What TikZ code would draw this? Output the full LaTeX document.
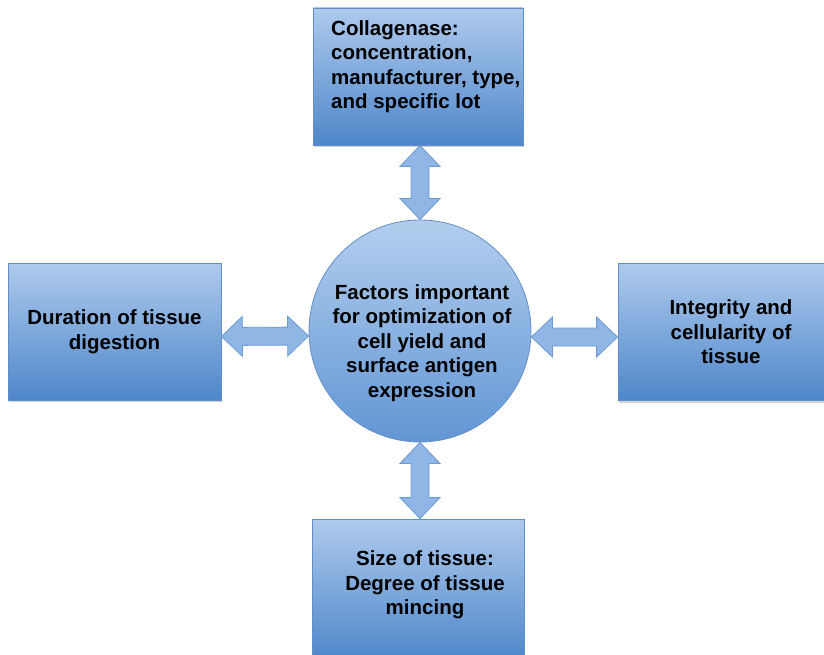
\documentclass[tikz,border=0pt]{standalone}
\usepackage{fontspec}
\setmainfont{Liberation Sans}
\usetikzlibrary{calc,shadows}

\definecolor{boxtop}{RGB}{174,202,237}
\definecolor{boxbot}{RGB}{78,135,202}
\definecolor{boxline}{RGB}{98,142,200}
\definecolor{circtop}{RGB}{178,206,238}
\definecolor{circbot}{RGB}{98,150,212}
\definecolor{arrowfill}{RGB}{143,182,228}
\definecolor{arrowline}{RGB}{110,154,210}

\tikzset{
  factorbox/.style={rectangle, draw=boxline, line width=0.8pt,
    top color=boxtop, bottom color=boxbot, inner sep=0pt,
    drop shadow={opacity=0.35, shadow xshift=1pt, shadow yshift=-2pt},
    align=center},
  hubcircle/.style={circle, draw=boxline, line width=0.8pt,
    top color=circtop, bottom color=circbot, inner sep=0pt,
    minimum size=222pt},
  caption/.style={inner sep=0pt, align=center, text=black},
  blockarrowstyle/.style={draw=arrowline, fill=arrowfill, line width=0.8pt,
    line join=miter},
}

% dimensions of the double-headed block arrows
\newcommand\arrowheadlen{21pt}
\newcommand\arrowheadhalf{20pt}
\newcommand\arrowshafthalf{9pt}

% double-headed block arrow between two points
\newcommand\blockarrow[2]{%
  \coordinate (ba-a) at #1;
  \coordinate (ba-b) at #2;
  \coordinate (ba-p) at ($(ba-a)!\arrowheadlen!(ba-b)$);
  \coordinate (ba-q) at ($(ba-b)!\arrowheadlen!(ba-a)$);
  \draw[blockarrowstyle] (ba-a)
    -- ($(ba-p)!\arrowheadhalf!90:(ba-b)$) -- ($(ba-p)!\arrowshafthalf!90:(ba-b)$)
    -- ($(ba-q)!\arrowshafthalf!-90:(ba-a)$) -- ($(ba-q)!\arrowheadhalf!-90:(ba-a)$)
    -- (ba-b)
    -- ($(ba-q)!\arrowheadhalf!90:(ba-a)$) -- ($(ba-q)!\arrowshafthalf!90:(ba-a)$)
    -- ($(ba-p)!\arrowshafthalf!-90:(ba-b)$) -- ($(ba-p)!\arrowheadhalf!-90:(ba-b)$)
    -- cycle;
}

\begin{document}
\begin{tikzpicture}[x=1pt, y=-1pt,
  font=\fontsize{20.5}{24.5}\selectfont\bfseries]
  \clip (0,0) rectangle (824,655);
  \fill[white] (0,0) rectangle (824,655);

  % outer factor boxes
  \node[factorbox, minimum width=210pt, minimum height=137pt] (tp) at (418,76.5) {};
  \node[factorbox, minimum width=213pt, minimum height=137pt] (lf) at (114.5,331.5)
    {Duration of tissue\\digestion};
  \node[factorbox, minimum width=226pt, minimum height=137pt] (rt) at (731,332)
    {Integrity and\\cellularity of\\tissue};
  \node[factorbox, minimum width=212pt, minimum height=140pt] (bt) at (418,589) {};

  % central hub
  \node[hubcircle] (c) at (420,331) {};

  % texts
  \node[caption, align=left, anchor=north west] (tptext) at (331,20)
    {Collagenase:\\concentration,\\manufacturer, type,\\and specific lot};
  \node[caption] (ctext) at (422,343)
    {Factors important\\for optimization of\\cell yield and\\surface antigen\\expression};
  \node[caption] (bttext) at (425,585)
    {Size of tissue:\\Degree of tissue\\mincing};

  % connectors
  \blockarrow{(tp.south -| c.north)}{(c.north)}
  \blockarrow{(c.south)}{(c.south |- bt.north)}
  \blockarrow{([yshift=-5pt]lf.east)}{([yshift=-5pt]c.west)}
  \blockarrow{([yshift=-6pt]c.east)}{([yshift=-6pt]c.east -| rt.west)}
\end{tikzpicture}
\end{document}
